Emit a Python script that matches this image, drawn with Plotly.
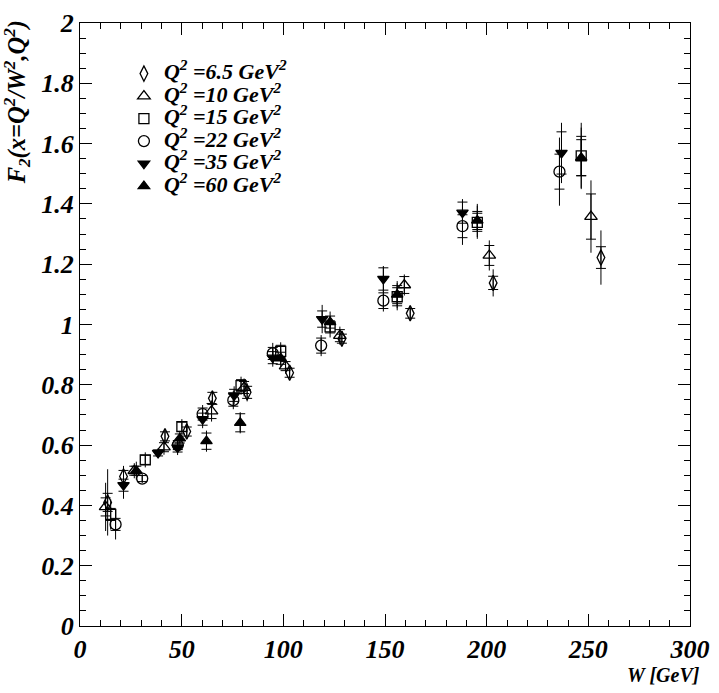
import plotly.graph_objects as go

# ---- data: W [GeV], F2, stat error, total error ----
w_65 = [13.6, 21.4, 41.8, 52.5, 65.1, 82.2, 103.1, 128.8, 162.4, 203.2, 256.2]
f_65 = [0.41, 0.496, 0.629, 0.645, 0.755, 0.775, 0.84, 0.953, 1.037, 1.138, 1.222]
s_65 = [0.03, 0.02, 0.015, 0.015, 0.02, 0.02, 0.015, 0.015, 0.016, 0.022, 0.036]
t_65 = [0.11, 0.035, 0.025, 0.025, 0.025, 0.03, 0.02, 0.025, 0.025, 0.045, 0.09]

w_10 = [12.6, 26.7, 41.3, 64.7, 80.7, 101.1, 127.8, 159.5, 201.3, 251.3]
f_10 = [0.395, 0.515, 0.593, 0.713, 0.791, 0.862, 0.963, 1.131, 1.229, 1.358]
s_10 = [0.03, 0.015, 0.015, 0.025, 0.02, 0.015, 0.02, 0.028, 0.033, 0.075]
t_10 = [0.08, 0.025, 0.025, 0.035, 0.03, 0.025, 0.03, 0.035, 0.05, 0.12]

w_15 = [15.1, 32.1, 50.1, 79.2, 98.7, 123.0, 156.0, 195.4, 246.5]
f_15 = [0.37, 0.551, 0.661, 0.797, 0.911, 0.992, 1.092, 1.339, 1.559]
s_15 = [0.02, 0.015, 0.015, 0.02, 0.02, 0.02, 0.03, 0.03, 0.065]
t_15 = [0.05, 0.025, 0.025, 0.03, 0.03, 0.035, 0.045, 0.055, 0.11]

w_22 = [17.5, 30.6, 48.1, 60.3, 75.4, 94.8, 118.6, 149.2, 188.1, 235.8]
f_22 = [0.337, 0.489, 0.60, 0.703, 0.749, 0.904, 0.930, 1.079, 1.326, 1.507]
s_22 = [0.02, 0.01, 0.015, 0.02, 0.02, 0.02, 0.025, 0.026, 0.038, 0.058]
t_22 = [0.05, 0.015, 0.025, 0.03, 0.03, 0.035, 0.035, 0.036, 0.062, 0.113]

w_35 = [21.4, 38.4, 48.0, 60.3, 75.8, 94.8, 119.1, 149.2, 188.1, 236.8]
f_35 = [0.467, 0.574, 0.592, 0.686, 0.765, 0.89, 1.018, 1.151, 1.371, 1.569]
s_35 = [0.02, 0.01, 0.015, 0.02, 0.02, 0.02, 0.027, 0.037, 0.035, 0.07]
t_35 = [0.045, 0.015, 0.025, 0.03, 0.03, 0.03, 0.047, 0.043, 0.045, 0.10]

w_60 = [27.7, 49.1, 62.2, 78.8, 98.7, 123.0, 156.0, 195.4, 246.5]
f_60 = [0.515, 0.622, 0.613, 0.674, 0.888, 1.008, 1.099, 1.345, 1.553]
s_60 = [0.015, 0.015, 0.027, 0.03, 0.02, 0.02, 0.03, 0.03, 0.06]
t_60 = [0.03, 0.025, 0.035, 0.035, 0.03, 0.035, 0.045, 0.055, 0.10]

q2_labels = ["6.5", "10", "15", "22", "35", "60"]

x_tickvals = [0, 50, 100, 150, 200, 250, 300]
x_ticktext = ["0", "50", "100", "150", "200", "250", "300"]
y_tickvals = [0, 0.2, 0.4, 0.6, 0.8, 1.0, 1.2, 1.4, 1.6, 1.8, 2.0]
y_ticktext = ["0", "0.2", "0.4", "0.6", "0.8", "1", "1.2", "1.4", "1.6", "1.8", "2"]

series = [
    (w_65, f_65, s_65, t_65, "diamond-tall-open", 11),
    (w_10, f_10, s_10, t_10, "triangle-up-open", 11),
    (w_15, f_15, s_15, t_15, "square-open", 10),
    (w_22, f_22, s_22, t_22, "circle-open", 11),
    (w_35, f_35, s_35, t_35, "triangle-down", 10),
    (w_60, f_60, s_60, t_60, "triangle-up", 10),
]

FONT = "Liberation Serif, Times New Roman, Times, serif"


def bi(s):
    return "<b><i>" + s + "</i></b>"


fig = go.Figure()

# total error bars (no crossbars)
for w, f, s, t, sym, sz in series:
    fig.add_trace(go.Scatter(
        x=w, y=f, mode="markers", showlegend=False, hoverinfo="skip",
        marker=dict(color="rgba(0,0,0,0)", size=2),
        error_y=dict(type="data", array=t, visible=True, color="black",
                     thickness=1, width=0)))

# markers with statistical error crossbars
for (w, f, s, t, sym, sz), q in zip(series, q2_labels):
    lab = ('<span style="font-size:22px">' +
           bi("Q<sup>2</sup> =" + q + " GeV<sup>2</sup>") + "</span>")
    fig.add_trace(go.Scatter(
        x=w, y=f, mode="markers", name=lab,
        marker=dict(symbol=sym, size=sz, color="black",
                    line=dict(color="black", width=1.3)),
        error_y=dict(type="data", array=s, visible=True, color="black",
                     thickness=1, width=5)))

tickfont = dict(family=FONT, size=26, color="black")

fig.update_layout(
    width=719, height=693,
    margin=dict(l=80, r=21, t=9, b=67),
    paper_bgcolor="white", plot_bgcolor="white",
    font=dict(family=FONT, color="black"),
    legend=dict(x=0.072, y=0.943, xanchor="left", yanchor="top",
                font=dict(family=FONT, size=15, color="black"),
                bgcolor="rgba(0,0,0,0)", tracegroupgap=0, itemwidth=30),
    showlegend=True,
    xaxis=dict(range=[0, 300], tickvals=x_tickvals, ticktext=[bi(t) for t in x_ticktext],
               showgrid=False, zeroline=False,
               showline=True, linecolor="black", linewidth=1, mirror="allticks",
               ticks="inside", ticklen=12, tickcolor="black", ticklabeloverflow="allow",
               minor=dict(ticks="inside", ticklen=6, dtick=10, tick0=0, tickcolor="black", showgrid=False),
               tickfont=tickfont),
    yaxis=dict(range=[0, 2], tickvals=y_tickvals, ticktext=[bi(t) for t in y_ticktext],
               showgrid=False, zeroline=False,
               showline=True, linecolor="black", linewidth=1, mirror="allticks",
               ticks="inside", ticklen=12, tickcolor="black", ticklabeloverflow="allow",
               minor=dict(ticks="inside", ticklen=6, dtick=0.05, tick0=0, tickcolor="black", showgrid=False),
               tickfont=tickfont),
    annotations=[
        dict(text=bi("F<sub>2</sub>(x=Q<sup>2</sup>/W<sup>2</sup>,Q<sup>2</sup>)"),
             xref="paper", yref="paper", x=-0.103, y=1.008, xanchor="center", yanchor="top",
             textangle=-90, showarrow=False,
             font=dict(family=FONT, size=24.5, color="black")),
        dict(text=bi("W [GeV]"), xref="paper", yref="paper", x=1.02, y=-0.081,
             xanchor="right", yanchor="middle", showarrow=False,
             font=dict(family=FONT, size=20, color="black")),
    ],
)

fig.write_html("out.html")
